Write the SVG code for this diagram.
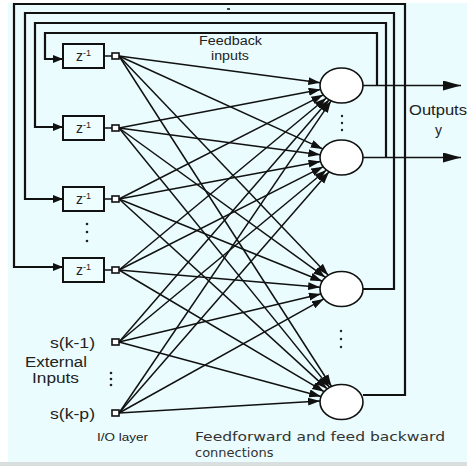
<svg xmlns="http://www.w3.org/2000/svg" width="467" height="466" viewBox="0 0 467 466">
  <style>
    .line { fill: none; stroke: #111; stroke-width: 1.5; }
    .loop { fill: none; stroke: #111; stroke-width: 2.2; }
    .box { fill: #eefdfd; stroke: #111; stroke-width: 2; }
    .port { fill: #fff; stroke: #111; stroke-width: 1.6; }
    .neuron { fill: #fff; stroke: #111; stroke-width: 1.6; }
    .lbl { font-family: "Liberation Sans", Arial, sans-serif; fill: #222; }
    .cap { font-family: "DejaVu Sans", Verdana, sans-serif; fill: #333; font-size: 13px; }
    .dot { fill: #222; }
  </style>
  <defs>
    <marker id="head" markerUnits="userSpaceOnUse" markerWidth="13" markerHeight="9" refX="12" refY="4" orient="auto">
      <path d="M0,0 L12,4 L0,8 z" fill="#111"/>
    </marker>
    <marker id="small" markerUnits="userSpaceOnUse" markerWidth="11" markerHeight="9" refX="10" refY="4" orient="auto">
      <path d="M0,0 L10,4 L0,8 z" fill="#111"/>
    </marker>
    <marker id="out" markerUnits="userSpaceOnUse" markerWidth="19" markerHeight="11" refX="18" refY="5" orient="auto">
      <path d="M0,0 L18,5 L0,10 z" fill="#111"/>
    </marker>
  </defs>

  <!-- page background -->
  <rect x="0" y="0" width="467" height="466" fill="#ffffff"/>
  <rect x="8" y="3" width="459" height="459" fill="#eafcfd"/>
  <rect x="0" y="462" width="467" height="4" fill="#d9dede"/>

  <g id="connectors">
    <!-- feedback loops from neuron outputs back to the delay units -->
    <path class="loop" d="M377,85.5 V33 H45 V59 H63" marker-end="url(#small)"/>
    <path class="loop" d="M386,157.5 V23 H35 V127 H63" marker-end="url(#small)"/>
    <path class="loop" d="M363,289 H394 V13 H25 V199 H63" marker-end="url(#small)"/>
    <path class="loop" d="M363,395 H405 V4 H14 V267 H63" marker-end="url(#small)"/>
    <line class="line" x1="227" y1="9" x2="230" y2="9" stroke-width="1"/>

    <!-- outputs -->
    <path class="line" d="M363,85.5 H461" marker-end="url(#out)"/>
    <path class="line" d="M363,157.5 H461" marker-end="url(#out)"/>

    <!-- delay box to port -->
    <path class="line" d="M104,56 H112 M104,128 H112 M104,199 H112 M104,270 H112"/>

    <!-- fully connected layer: every input port to every neuron -->
    <g class="line" marker-end="url(#head)">
      <line x1="119" y1="56" x2="320.3" y2="82.7"/>
      <line x1="119" y1="128" x2="320.6" y2="89.5"/>
      <line x1="119" y1="199" x2="323.3" y2="94.8"/>
      <line x1="119" y1="270" x2="326.4" y2="98.0"/>
      <line x1="119" y1="342" x2="329.1" y2="99.8"/>
      <line x1="119" y1="413" x2="331.1" y2="100.8"/>

      <line x1="119" y1="56" x2="322.7" y2="148.9"/>
      <line x1="119" y1="128" x2="320.3" y2="154.7"/>
      <line x1="119" y1="199" x2="320.5" y2="161.4"/>
      <line x1="119" y1="270" x2="323.2" y2="166.7"/>
      <line x1="119" y1="342" x2="326.4" y2="170.0"/>
      <line x1="119" y1="413" x2="329.1" y2="171.8"/>

      <line x1="119" y1="56" x2="328.3" y2="275.2"/>
      <line x1="119" y1="128" x2="325.4" y2="277.4"/>
      <line x1="119" y1="199" x2="322.3" y2="281.2"/>
      <line x1="119" y1="270" x2="320.1" y2="287.2"/>
      <line x1="119" y1="342" x2="320.9" y2="293.9"/>
      <line x1="119" y1="413" x2="323.8" y2="298.9"/>

      <line x1="119" y1="56" x2="331.5" y2="386.5"/>
      <line x1="119" y1="128" x2="329.6" y2="387.4"/>
      <line x1="119" y1="199" x2="327.2" y2="388.9"/>
      <line x1="119" y1="270" x2="324.1" y2="391.7"/>
      <line x1="119" y1="342" x2="321.1" y2="396.5"/>
      <line x1="119" y1="413" x2="320.0" y2="400.9"/>
    </g>
  </g>

  <!-- delay units -->
  <g id="delay1">
    <rect class="box" x="63" y="44" width="41" height="24"/>
    <text class="lbl" x="76" y="61" font-size="14">z<tspan font-size="9" dy="-5">-1</tspan></text>
    <rect class="port" x="112" y="53" width="7" height="6"/>
  </g>
  <g id="delay2">
    <rect class="box" x="63" y="116" width="41" height="24"/>
    <text class="lbl" x="76" y="133" font-size="14">z<tspan font-size="9" dy="-5">-1</tspan></text>
    <rect class="port" x="112" y="125" width="7" height="6"/>
  </g>
  <g id="delay3">
    <rect class="box" x="63" y="187" width="41" height="24"/>
    <text class="lbl" x="76" y="204" font-size="14">z<tspan font-size="9" dy="-5">-1</tspan></text>
    <rect class="port" x="112" y="196" width="7" height="6"/>
  </g>
  <g id="delay4">
    <rect class="box" x="63" y="258" width="41" height="24"/>
    <text class="lbl" x="76" y="275" font-size="14">z<tspan font-size="9" dy="-5">-1</tspan></text>
    <rect class="port" x="112" y="267" width="7" height="6"/>
  </g>
  <g id="delay-dots">
    <circle class="dot" cx="87" cy="224" r="1.3"/>
    <circle class="dot" cx="87" cy="232" r="1.3"/>
    <circle class="dot" cx="87" cy="241" r="1.3"/>
  </g>

  <!-- external inputs -->
  <g id="input-k1">
    <rect class="port" x="112" y="339" width="7" height="6"/>
    <text class="lbl" x="95" y="348" font-size="14" text-anchor="end" textLength="45" lengthAdjust="spacingAndGlyphs">s(k-1)</text>
  </g>
  <g id="input-kp">
    <rect class="port" x="112" y="410" width="7" height="6"/>
    <text class="lbl" x="95" y="419" font-size="14" text-anchor="end" textLength="45" lengthAdjust="spacingAndGlyphs">s(k-p)</text>
  </g>
  <g id="input-dots">
    <circle class="dot" cx="111" cy="373" r="1.3"/>
    <circle class="dot" cx="111" cy="379" r="1.3"/>
    <circle class="dot" cx="111" cy="385" r="1.3"/>
  </g>
  <text class="lbl" x="25" y="367" font-size="14" textLength="62" lengthAdjust="spacingAndGlyphs">External</text>
  <text class="lbl" x="32" y="383" font-size="14" textLength="47" lengthAdjust="spacingAndGlyphs">Inputs</text>
  <text class="lbl" x="97" y="441" font-size="11" textLength="51" lengthAdjust="spacingAndGlyphs">I/O layer</text>

  <!-- neurons -->
  <g id="neuron1"><ellipse class="neuron" cx="341.5" cy="85.5" rx="21.5" ry="17.5"/></g>
  <g id="neuron2"><ellipse class="neuron" cx="341.5" cy="157.5" rx="21.5" ry="17.5"/></g>
  <g id="neuron3"><ellipse class="neuron" cx="341.5" cy="289" rx="21.5" ry="17.5"/></g>
  <g id="neuron4"><ellipse class="neuron" cx="341.5" cy="402" rx="21.5" ry="17.5"/></g>
  <g id="neuron-dots">
    <circle class="dot" cx="342" cy="116" r="1.2"/>
    <circle class="dot" cx="342" cy="123" r="1.2"/>
    <circle class="dot" cx="342" cy="130" r="1.2"/>
    <circle class="dot" cx="341" cy="331" r="1.2"/>
    <circle class="dot" cx="341" cy="339" r="1.2"/>
    <circle class="dot" cx="341" cy="347" r="1.2"/>
  </g>

  <!-- labels -->
  <text class="lbl" x="199" y="45" font-size="12" textLength="63" lengthAdjust="spacingAndGlyphs">Feedback</text>
  <text class="lbl" x="211" y="59.5" font-size="12" textLength="38" lengthAdjust="spacingAndGlyphs">inputs</text>
  <text class="lbl" x="409" y="115" font-size="14" textLength="58" lengthAdjust="spacingAndGlyphs">Outputs</text>
  <text class="lbl" x="435" y="135" font-size="14">y</text>
  <text class="cap" x="195" y="441" textLength="250" lengthAdjust="spacingAndGlyphs">Feedforward and feed backward</text>
  <text class="cap" x="195" y="457">connections</text>
</svg>
